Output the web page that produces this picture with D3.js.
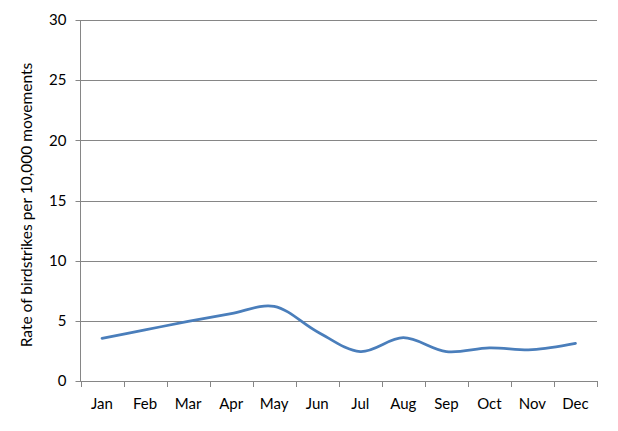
<!DOCTYPE html>
<html><head><meta charset="utf-8">
<script src="https://cdn.jsdelivr.net/npm/d3@7"></script>
<style>body{margin:0;background:#fff}svg{display:block}text{font-family:Lato,"Open Sans",sans-serif;fill:#000}</style>
</head><body><div id="c"></div>
<script>
const months = ["Jan","Feb","Mar","Apr","May","Jun","Jul","Aug","Sep","Oct","Nov","Dec"];
const rates = [3.55,4.25,4.95,5.6,6.2,4.1,2.45,3.6,2.45,2.75,2.6,3.12];
const yTicks = [0,5,10,15,20,25,30];
const yTitle = "Rate of birdstrikes per 10,000 movements";

const W=618,H=431, m={l:80.5,r:21,t:20,b:50};
const svg=d3.select("#c").append("svg").attr("width",W).attr("height",H);
const x=d3.scaleBand().domain(months).range([m.l,W-m.r]);
const y=d3.scaleLinear().domain([0,30]).range([H-m.b,m.t]);

const g=svg.append("g");
g.selectAll("line.grid").data(yTicks).join("line")
 .attr("x1",m.l-5).attr("x2",W-m.r).attr("y1",d=>Math.round(y(d))+0.5).attr("y2",d=>Math.round(y(d))+0.5)
 .attr("stroke","#868686").attr("stroke-width",1);
g.append("line").attr("x1",m.l).attr("x2",m.l).attr("y1",y(30)).attr("y2",y(0)+0.5).attr("stroke","#868686");
const xt=months.map(d=>x(d)).concat([x(months[months.length-1])+x.bandwidth()]);
g.selectAll("line.xt").data(xt).join("line")
 .attr("x1",d=>Math.round(d)+0.5).attr("x2",d=>Math.round(d)+0.5).attr("y1",y(0)).attr("y2",y(0)+6)
 .attr("stroke","#868686");
g.selectAll("text.yl").data(yTicks).join("text")
 .attr("x",m.l-14).attr("y",d=>y(d)).attr("dy","0.35em").attr("text-anchor","end")
 .style("font-size","15px").text(d=>d);
g.selectAll("text.xl").data(months).join("text")
 .attr("x",d=>x(d)+x.bandwidth()/2).attr("y",y(0)+23).attr("dy","0.35em").attr("text-anchor","middle")
 .style("font-size","15px").text(d=>d);
svg.append("text").attr("transform",`translate(${27},${205}) rotate(-90)`)
 .attr("text-anchor","middle").attr("dy","0.35em").style("font-size","15.5px").text(yTitle);
const line=d3.line().x((d,i)=>x(months[i])+x.bandwidth()/2).y(d=>y(d)).curve(d3.curveCatmullRom.alpha(0.5));
svg.append("path").datum(rates).attr("d",line).attr("fill","none").attr("stroke","#4a7ebb").attr("stroke-width",2.75).attr("stroke-linecap","round");
</script></body></html>
